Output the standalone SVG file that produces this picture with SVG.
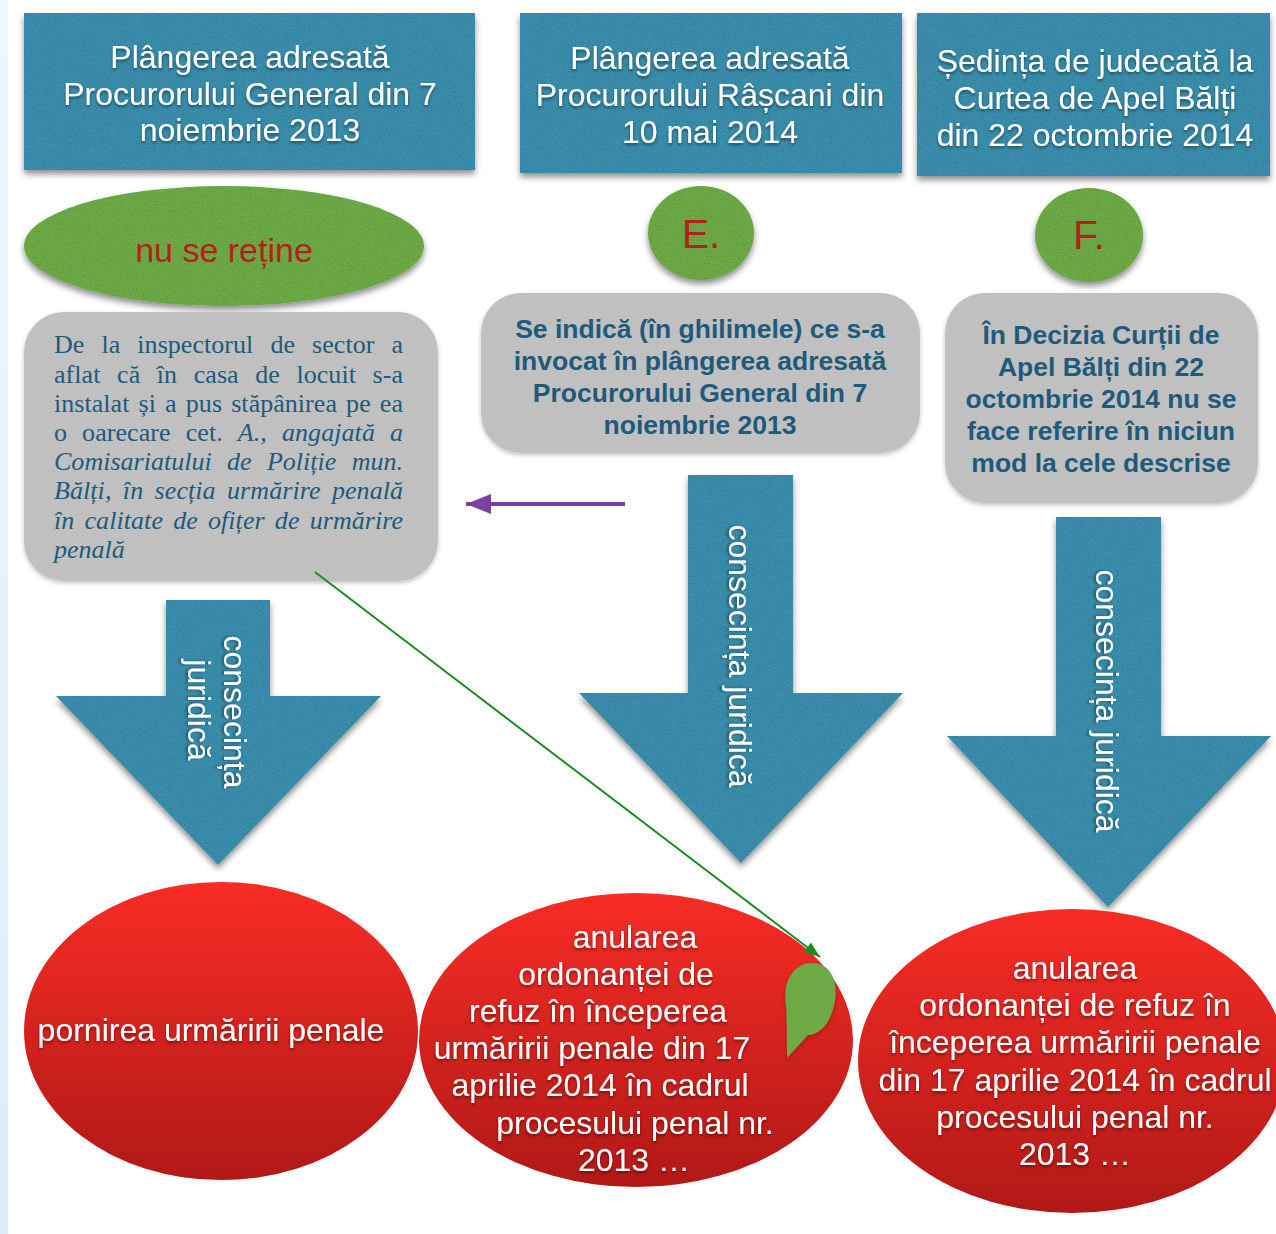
<svg xmlns="http://www.w3.org/2000/svg" width="1276" height="1234" viewBox="0 0 1276 1234">
<defs>
<style>
.blue{fill:#3a8fad}
.green{fill:#6eab46}
.gray{fill:#c0c0c0}
.red{fill:url(#redg)}
.wt{font-family:"Liberation Sans",Arial,sans-serif;fill:#ffffff;font-size:32px;text-anchor:middle}
.rt{font-family:"Liberation Sans",Arial,sans-serif;fill:#b51f1c;text-anchor:middle}
.bt{font-family:"Liberation Sans",Arial,sans-serif;fill:#1e5a7b;font-size:26.5px;font-weight:bold;text-anchor:middle}
.st{font-family:"Liberation Serif","Times New Roman",serif;fill:#1e5a7b;font-size:26px}
.it{font-style:italic}
</style>
<linearGradient id="redg" x1="0" y1="0" x2="0" y2="1">
<stop offset="0" stop-color="#f82c25"/>
<stop offset="1" stop-color="#b01917"/>
</linearGradient>
<linearGradient id="strip" x1="0" y1="0" x2="0" y2="1">
<stop offset="0" stop-color="#eef7fd"/>
<stop offset="1" stop-color="#dcedf8"/>
</linearGradient>
<filter id="sh" x="-10%" y="-10%" width="120%" height="130%">
<feGaussianBlur in="SourceAlpha" stdDeviation="3"/>
<feOffset dy="4" result="b"/>
<feFlood flood-color="#000" flood-opacity="0.45"/>
<feComposite in2="b" operator="in" result="shadow"/>
<feTurbulence type="fractalNoise" baseFrequency="0.85" numOctaves="2" seed="7" result="noise"/>
<feColorMatrix in="noise" type="matrix" values="0 0 0 0 0  0 0 0 0 0  0 0 0 0 0  0.7 0 0 0 -0.3" result="speck"/>
<feComposite in="speck" in2="SourceGraphic" operator="in" result="speckIn"/>
<feMerge><feMergeNode in="shadow"/><feMergeNode in="SourceGraphic"/><feMergeNode in="speckIn"/></feMerge>
</filter>
<filter id="shl" x="-10%" y="-10%" width="120%" height="130%">
<feDropShadow dx="0" dy="2" stdDeviation="2" flood-color="#000" flood-opacity="0.25"/>
</filter>
<filter id="tsh" x="-10%" y="-30%" width="120%" height="160%">
<feDropShadow dx="0" dy="2" stdDeviation="1.5" flood-color="#000" flood-opacity="0.45"/>
</filter>
<marker id="ahG" viewBox="0 0 16 12" refX="16" refY="6" markerWidth="16" markerHeight="12" markerUnits="userSpaceOnUse" orient="auto">
<path d="M0,0 L16,6 L0,12 z" fill="#1b8c1e"/>
</marker>
<marker id="ahP" viewBox="0 0 25 20" refX="25" refY="10" markerWidth="25" markerHeight="20" markerUnits="userSpaceOnUse" orient="auto">
<path d="M0,0 L25,10 L0,20 z" fill="#7a40a2"/>
</marker>
</defs>

<rect x="0" y="0" width="1276" height="1234" fill="#ffffff"/>
<rect x="0" y="0" width="8" height="1234" fill="url(#strip)"/>

<!-- top boxes -->
<g id="box1">
<rect class="blue" x="24" y="13" width="451" height="157" filter="url(#sh)"/>
<text class="wt" filter="url(#tsh)"><tspan x="250" y="68">Plângerea adresată</tspan><tspan x="250" y="105">Procurorului General din 7</tspan><tspan x="250" y="141">noiembrie 2013</tspan></text>
</g>
<g id="box2">
<rect class="blue" x="520" y="13" width="382" height="160" filter="url(#sh)"/>
<text class="wt" filter="url(#tsh)"><tspan x="710" y="69">Plângerea adresată</tspan><tspan x="710" y="106">Procurorului Râșcani din</tspan><tspan x="710" y="143">10 mai 2014</tspan></text>
</g>
<g id="box3">
<rect class="blue" x="917" y="13" width="353" height="163" filter="url(#sh)"/>
<text class="wt" filter="url(#tsh)"><tspan x="1095" y="72">Ședința de judecată la</tspan><tspan x="1095" y="109">Curtea de Apel Bălți</tspan><tspan x="1095" y="146">din 22 octombrie 2014</tspan></text>
</g>

<!-- green ellipses -->
<g id="nuSeRetine">
<ellipse class="green" cx="224" cy="246" rx="200" ry="60" filter="url(#sh)"/>
<text class="rt" x="224" y="262" font-size="34">nu se reține</text>
</g>
<g id="E">
<ellipse class="green" cx="701" cy="233" rx="53" ry="47" filter="url(#sh)"/>
<text class="rt" x="701" y="248" font-size="41">E.</text>
</g>
<g id="F">
<ellipse class="green" cx="1089" cy="235" rx="54" ry="47" filter="url(#sh)"/>
<text class="rt" x="1089" y="249" font-size="41">F.</text>
</g>

<!-- gray boxes -->
<g id="grayLeft">
<rect class="gray" x="24" y="312" width="414" height="269" rx="40" filter="url(#shl)"/>
<text class="st" x="54" y="353" word-spacing="10.5" textLength="349" lengthAdjust="spacing">De la inspectorul de sector a</text>
<text class="st" x="54" y="383" word-spacing="10" textLength="349" lengthAdjust="spacing">aflat că în casa de locuit s-a</text>
<text class="st" x="54" y="412" word-spacing="2.6" textLength="349" lengthAdjust="spacing">instalat și a pus stăpânirea pe ea</text>
<text class="st" x="54" y="441" word-spacing="8.5" textLength="349" lengthAdjust="spacing">o oarecare cet. <tspan class="it">A., angajată a</tspan></text>
<text class="st it" x="54" y="470" word-spacing="8.7" textLength="349" lengthAdjust="spacing">Comisariatului de Poliție mun.</text>
<text class="st it" x="54" y="499" word-spacing="4.8" textLength="349" lengthAdjust="spacing">Bălți, în secția urmărire penală</text>
<text class="st it" x="54" y="529" word-spacing="3.6" textLength="349" lengthAdjust="spacing">în calitate de ofițer de urmărire</text>
<text class="st it" x="54" y="558">penală</text>
</g>
<g id="grayMid">
<rect class="gray" x="481" y="293" width="439" height="160" rx="40" filter="url(#shl)"/>
<text class="bt"><tspan x="700" y="338">Se indică (în ghilimele) ce s-a</tspan><tspan x="700" y="370">invocat în plângerea adresată</tspan><tspan x="700" y="402">Procurorului General din 7</tspan><tspan x="700" y="434">noiembrie 2013</tspan></text>
</g>
<g id="grayRight">
<rect class="gray" x="945" y="293" width="313" height="210" rx="40" filter="url(#shl)"/>
<text class="bt"><tspan x="1101" y="344">În Decizia Curții de</tspan><tspan x="1101" y="376">Apel Bălți din 22</tspan><tspan x="1101" y="408">octombrie 2014 nu se</tspan><tspan x="1101" y="440">face referire în niciun</tspan><tspan x="1101" y="472">mod la cele descrise</tspan></text>
</g>

<!-- block arrows -->
<g id="arrowLeft">
<polygon class="blue" points="166,600 270,600 270,696 381,696 218,865 56,696 166,696" filter="url(#sh)"/>
<text class="wt" transform="translate(224,712) rotate(90)" x="0" y="0" filter="url(#tsh)">consecința</text>
<text class="wt" transform="translate(188,710) rotate(90)" x="0" y="0" filter="url(#tsh)">juridică</text>
</g>
<g id="arrowMid">
<polygon class="blue" points="688,475 793,475 793,693 903,693 741,863 579,693 688,693" filter="url(#sh)"/>
<text class="wt" transform="translate(729,656) rotate(90)" x="0" y="0" filter="url(#tsh)">consecința juridică</text>
</g>
<g id="arrowRight">
<polygon class="blue" points="1056,517 1161,517 1161,736 1271,736 1108,907 947,736 1056,736" filter="url(#sh)"/>
<text class="wt" transform="translate(1096,701) rotate(90)" x="0" y="0" filter="url(#tsh)">consecința juridică</text>
</g>

<!-- red ellipses -->
<g id="redLeft">
<ellipse class="red" cx="221" cy="1031" rx="197" ry="149"/>
<text class="wt" x="211" y="1041" filter="url(#tsh)">pornirea urmăririi penale</text>
</g>
<g id="redMid">
<ellipse class="red" cx="636" cy="1040" rx="217" ry="147"/>
<text class="wt" filter="url(#tsh)"><tspan x="635" y="948">anularea</tspan><tspan x="616" y="985">ordonanței de</tspan><tspan x="598" y="1022">refuz în începerea</tspan><tspan x="592" y="1059">urmăririi penale din 17</tspan><tspan x="600" y="1096">aprilie 2014 în cadrul</tspan><tspan x="635" y="1134">procesului penal nr.</tspan><tspan x="634" y="1171">2013 …</tspan></text>
</g>
<g id="redRight">
<ellipse class="red" cx="1072" cy="1061" rx="214" ry="152"/>
<text class="wt" filter="url(#tsh)"><tspan x="1075" y="979">anularea</tspan><tspan x="1075" y="1016">ordonanței de refuz în</tspan><tspan x="1075" y="1053">începerea urmăririi penale</tspan><tspan x="1075" y="1091">din 17 aprilie 2014 în cadrul</tspan><tspan x="1075" y="1128">procesului penal nr.</tspan><tspan x="1075" y="1165">2013 …</tspan></text>
</g>

<!-- speech bubble -->
<g id="bubble">
<path class="green" d="M786,1005 C782,980 795,963 812,963 C830,963 838,980 835,1000 C832,1022 820,1035 808,1035 L787,1058 C787,1040 787,1022 786,1005 Z" filter="url(#shl)"/>
</g>

<!-- connectors -->
<g id="connectors">
<line x1="315" y1="572" x2="820" y2="957" stroke="#1b8c1e" stroke-width="2" marker-end="url(#ahG)"/>
<line x1="625" y1="504" x2="466" y2="504" stroke="#7a40a2" stroke-width="4" marker-end="url(#ahP)"/>
</g>
</svg>
